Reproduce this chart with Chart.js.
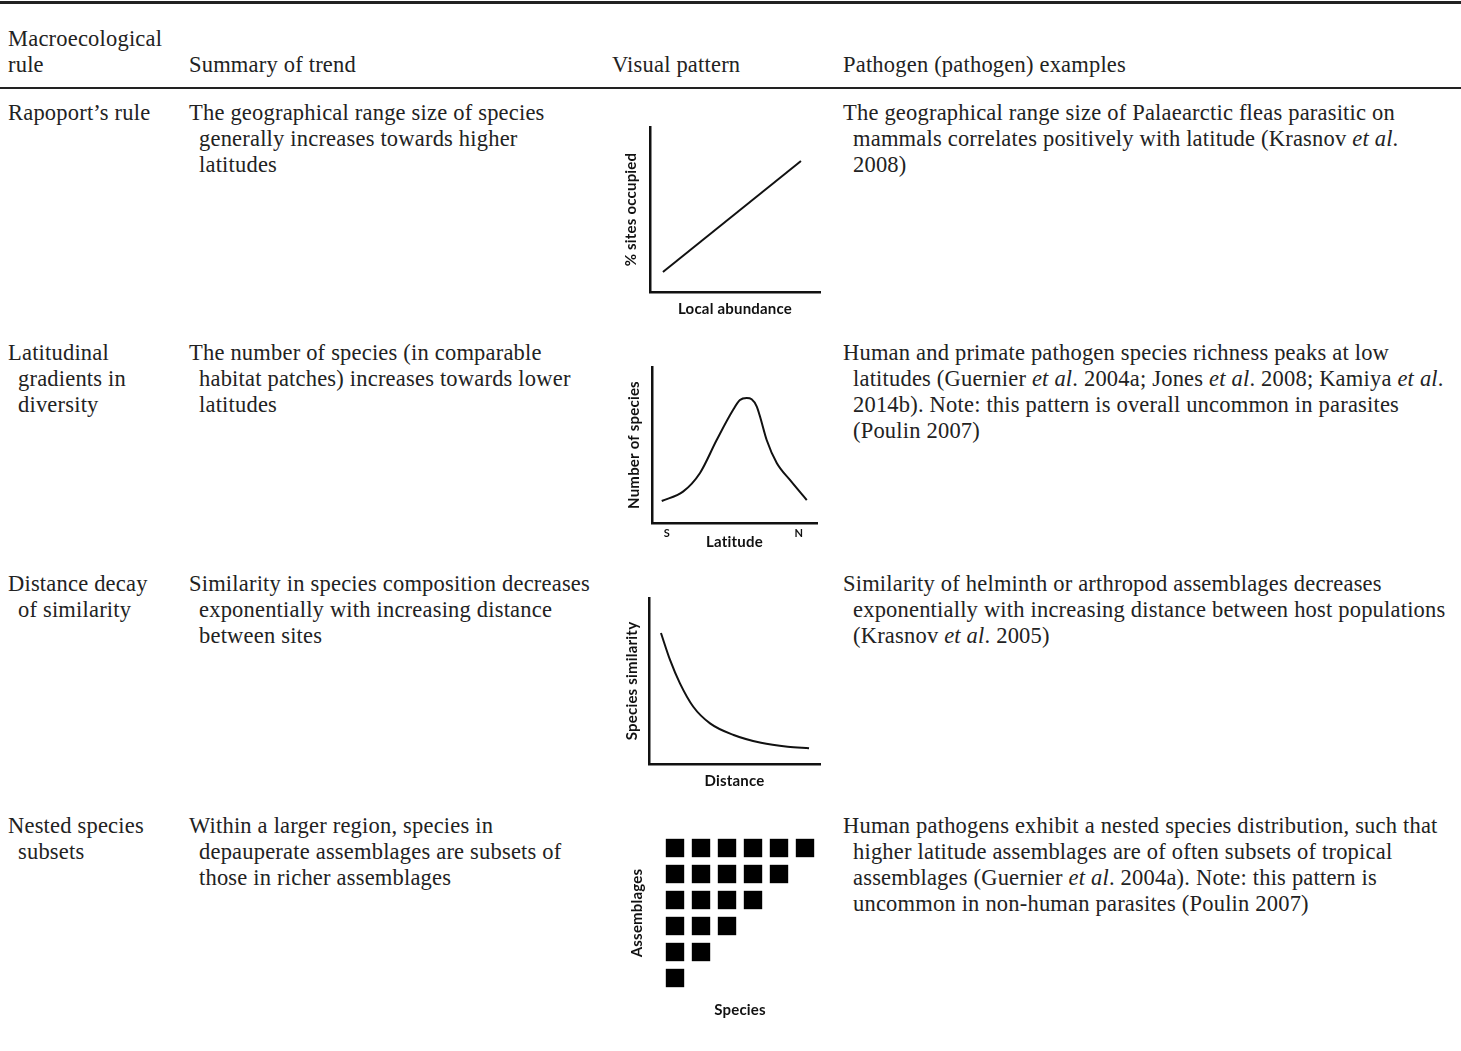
<!DOCTYPE html>
<html>
<head>
<meta charset="utf-8">
<script src="https://cdn.jsdelivr.net/npm/chart.js@4.4.0/dist/chart.umd.min.js"></script>
<style>
    html, body { margin: 0; padding: 0; background: #fff; }
    body {
        width: 1461px; height: 1051px; position: relative; overflow: hidden;
        font-family: "Liberation Serif", "Times New Roman", serif;
        font-size: 22.5px; letter-spacing: 0.2px; color: #222;
    }
    .rule { position: absolute; left: 0; width: 1461px; background: #222; }
    .ln { position: absolute; white-space: nowrap; line-height: 26px; height: 26px; }
    .box { position: absolute; }
</style>
</head>
<body>
<div class="rule" style="top:1px;height:3px"></div>
<div class="rule" style="top:87px;height:2px"></div>
<div id="table"></div>
<div class="box" id="box1"><canvas id="chart1"></canvas></div>
<div class="box" id="box2"><canvas id="chart2"></canvas></div>
<div class="box" id="box3"><canvas id="chart3"></canvas></div>
<div class="box" id="box4"><canvas id="chart4"></canvas></div>

<script>
// --- data (axes 0-100) ---
// Rapoport's rule: straight line
const rapoportX = [7.6, 88.8];
const rapoportY = [12.1, 79.4];

// Latitudinal gradient: hump
const latitudeX = [5.9, 18.8, 29.1, 39.2, 49.1, 53.3, 57.4, 60.4, 63.5, 65.5, 69.5, 75.6, 83.6, 93.8];
const latitudeY = [14.1, 20.1, 32.1, 53.2, 72.4, 78.8, 80.1, 79.3, 74.6, 68.1, 53.2, 38.5, 27.6, 14.7];
const latitudeTickValues = [9, 89];
const latitudeTickLabels = ['S', 'N'];

// Distance decay: falling curve
const distanceX = [7.0, 12.3, 18.1, 25.9, 35.7, 49.5, 65.5, 81.1, 93.6];
const distanceY = [78.9, 62.7, 48.6, 34.5, 24.5, 17.5, 12.8, 10.4, 9.5];

// Nested subsets: number of species present per assemblage (top row first)
const nestedCounts = [6, 5, 4, 3, 2, 1];

// --- table text ---
const tableLines = [
    // [x, y(center), text]
    [8, 40, 'Macroecological'], [8, 66, 'rule'],
    [189, 66, 'Summary of trend'], [612, 66, 'Visual pattern'], [843, 66, 'Pathogen (pathogen) examples'],

    [8, 114, 'Rapoport’s rule'],
    [189, 114, 'The geographical range size of species'],
    [199, 140, 'generally increases towards higher'],
    [199, 166, 'latitudes'],
    [843, 114, 'The geographical range size of Palaearctic fleas parasitic on'],
    [853, 140, 'mammals correlates positively with latitude (Krasnov <i>et al</i>.'],
    [853, 166, '2008)'],

    [8, 354, 'Latitudinal'], [18, 380, 'gradients in'], [18, 406, 'diversity'],
    [189, 354, 'The number of species (in comparable'],
    [199, 380, 'habitat patches) increases towards lower'],
    [199, 406, 'latitudes'],
    [843, 354, 'Human and primate pathogen species richness peaks at low'],
    [853, 380, 'latitudes (Guernier <i>et al</i>. 2004a; Jones <i>et al</i>. 2008; Kamiya <i>et al</i>.'],
    [853, 406, '2014b). Note: this pattern is overall uncommon in parasites'],
    [853, 432, '(Poulin 2007)'],

    [8, 585, 'Distance decay'], [18, 611, 'of similarity'],
    [189, 585, 'Similarity in species composition decreases'],
    [199, 611, 'exponentially with increasing distance'],
    [199, 637, 'between sites'],
    [843, 585, 'Similarity of helminth or arthropod assemblages decreases'],
    [853, 611, 'exponentially with increasing distance between host populations'],
    [853, 637, '(Krasnov <i>et al</i>. 2005)'],

    [8, 827, 'Nested species'], [18, 853, 'subsets'],
    [189, 827, 'Within a larger region, species in'],
    [199, 853, 'depauperate assemblages are subsets of'],
    [199, 879, 'those in richer assemblages'],
    [843, 827, 'Human pathogens exhibit a nested species distribution, such that'],
    [853, 853, 'higher latitude assemblages are of often subsets of tropical'],
    [853, 879, 'assemblages (Guernier <i>et al</i>. 2004a). Note: this pattern is'],
    [853, 905, 'uncommon in non-human parasites (Poulin 2007)']
];

document.addEventListener('DOMContentLoaded', function () {

    const table = document.getElementById('table');
    tableLines.forEach(l => {
        const d = document.createElement('div');
        d.className = 'ln';
        d.style.left = l[0] + 'px';
        d.style.top = (l[1] - 14) + 'px';
        d.innerHTML = l[2];
        table.appendChild(d);
    });

    const labelFont = { family: 'Lato', size: 15, weight: 'bold' };
    const LH = labelFont.size * 1.2;
    const tickFont = { family: 'Lato', size: 11, weight: 'bold' };
    const tickPad = 4;

    // builds scale + layout options so the plot area lands on the given box
    function build(boxId, canvasId, geo, config) {
        const box = document.getElementById(boxId);
        box.style.left = geo.left + 'px';
        box.style.top = geo.top + 'px';
        box.style.width = geo.width + 'px';
        box.style.height = geo.height + 'px';

        const tickBlock = geo.xTicks ? tickFont.size * 1.2 + tickPad * 2 : 0;
        const xTitleTop = geo.xTitleY - geo.B - tickBlock - LH / 2;
        const yTitleTop = geo.yTitleX - geo.left - LH / 2;
        const yTitleBottom = geo.L - geo.left - LH - yTitleTop;
        const bottomPad = geo.top + geo.height - geo.B - tickBlock - LH - xTitleTop;

        const axisLine = geo.noAxis ? { display: false } : { display: true, color: '#111', width: 2.5 };

        const x = Object.assign({
            type: 'linear', min: geo.xMin, max: geo.xMax,
            grid: { display: false, drawTicks: false },
            border: axisLine,
            ticks: { display: false },
            title: { display: true, text: geo.xTitle, color: '#111', font: labelFont, padding: { top: xTitleTop, bottom: 0 } }
        }, config.x || {});
        const y = {
            type: 'linear', min: geo.yMin, max: geo.yMax,
            grid: { display: false, drawTicks: false },
            border: axisLine,
            ticks: { display: false },
            title: { display: true, text: geo.yTitle, color: '#111', font: labelFont, padding: { top: yTitleTop, bottom: yTitleBottom } }
        };

        return new Chart(document.getElementById(canvasId), {
            type: 'scatter',
            data: { datasets: config.datasets },
            options: {
                responsive: true,
                maintainAspectRatio: false,
                animation: false,
                events: [],
                layout: {
                    autoPadding: false,
                    padding: { left: 0, top: geo.T - geo.top, right: geo.left + geo.width - geo.R, bottom: bottomPad }
                },
                scales: { x: x, y: y },
                plugins: { legend: { display: false }, tooltip: { enabled: false } }
            }
        });
    }

    function curve(xs, ys) {
        return {
            data: xs.map((v, i) => ({ x: v, y: ys[i] })),
            showLine: true,
            borderColor: '#111',
            borderWidth: 2,
            pointRadius: 0,
            cubicInterpolationMode: 'monotone'
        };
    }

    // 1. Rapoport's rule
    build('box1', 'chart1', {
        left: 608, top: 115, width: 222, height: 212,
        L: 650, T: 127, R: 820, B: 292,
        yTitleX: 631, xTitleY: 309,
        xMin: 0, xMax: 100, yMin: 0, yMax: 100,
        xTitle: 'Local abundance', yTitle: '% sites occupied'
    }, { datasets: [curve(rapoportX, rapoportY)] });

    // 2. Latitudinal gradient
    build('box2', 'chart2', {
        left: 608, top: 355, width: 222, height: 200,
        L: 652, T: 367, R: 817, B: 523,
        yTitleX: 634, xTitleY: 542, xTicks: true,
        xMin: 0, xMax: 100, yMin: 0, yMax: 100,
        xTitle: 'Latitude', yTitle: 'Number of species'
    }, {
        datasets: [curve(latitudeX, latitudeY)],
        x: {
            afterBuildTicks: axis => { axis.ticks = latitudeTickValues.map(v => ({ value: v })); },
            ticks: {
                display: true, padding: tickPad, color: '#111', font: tickFont, maxRotation: 0,
                callback: (v, i) => latitudeTickLabels[i]
            }
        }
    });

    // 3. Distance decay
    build('box3', 'chart3', {
        left: 608, top: 586, width: 222, height: 210,
        L: 649, T: 598, R: 820, B: 764,
        yTitleX: 632, xTitleY: 781,
        xMin: 0, xMax: 100, yMin: 0, yMax: 100,
        xTitle: 'Distance', yTitle: 'Species similarity'
    }, { datasets: [curve(distanceX, distanceY)] });

    // 4. Nested subsets: one square per species present in an assemblage
    const nestedPoints = [];
    nestedCounts.forEach((n, row) => {
        for (let s = 1; s <= n; s++) {
            nestedPoints.push({ x: s, y: nestedCounts.length - row });
        }
    });
    build('box4', 'chart4', {
        left: 608, top: 825, width: 222, height: 200,
        L: 662, T: 835, R: 818, B: 991,
        yTitleX: 637, xTitleY: 1010, noAxis: true,
        xMin: 0.5, xMax: 6.5, yMin: 0.5, yMax: 6.5,
        xTitle: 'Species', yTitle: 'Assemblages'
    }, {
        datasets: [{
            data: nestedPoints,
            pointStyle: 'rect',
            pointRadius: 13,
            backgroundColor: '#000',
            borderWidth: 0
        }]
    });
});
</script>
</body>
</html>
